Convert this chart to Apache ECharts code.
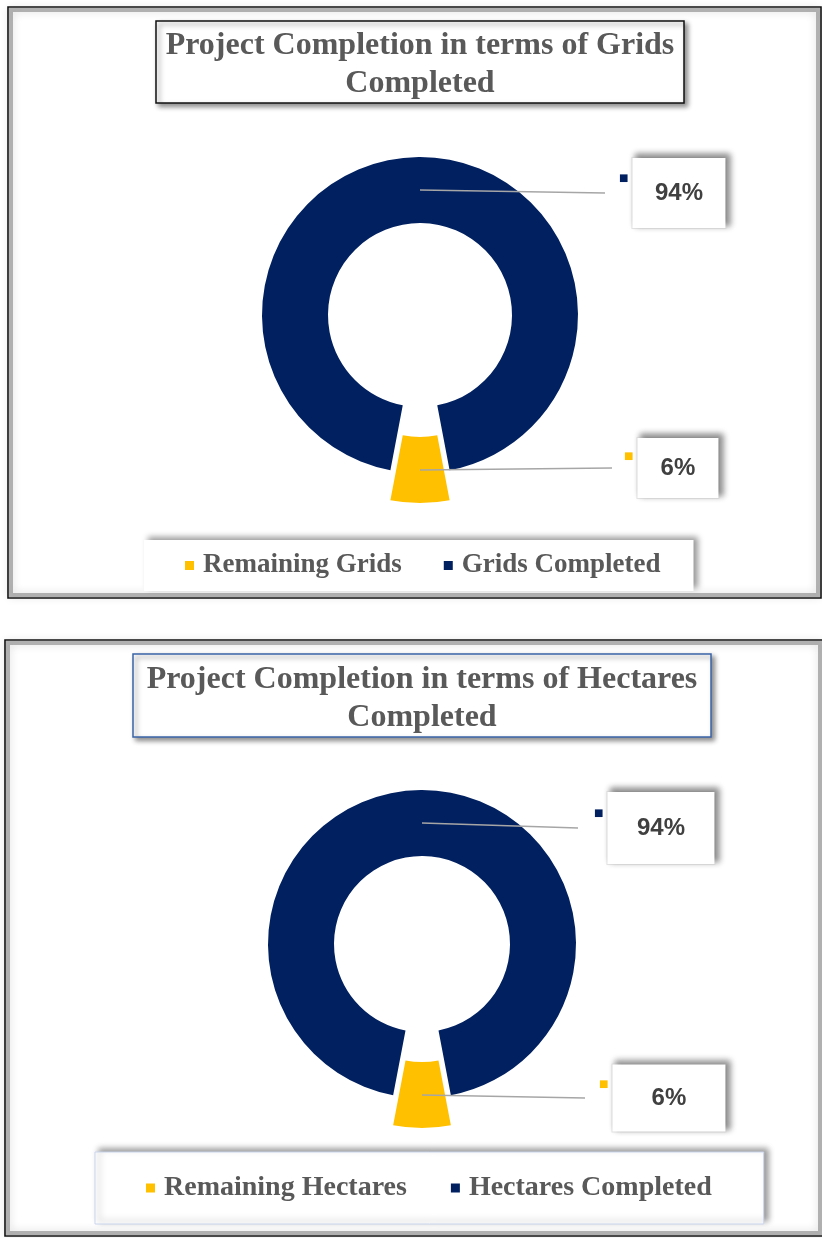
<!DOCTYPE html>
<html><head><meta charset="utf-8">
<script src="https://cdn.jsdelivr.net/npm/echarts@6/dist/echarts.min.js"></script>
<style>html,body{margin:0;padding:0;background:#fff;overflow:hidden}#c{width:822px;height:1238px}</style>
</head><body><div id="c"></div>
<script>
// ---- data ----
const gridTitle = 'Project Completion in terms of Grids\nCompleted';
const gridCategories = ['Remaining Grids', 'Grids Completed'];
const gridValues = [6, 94];
const hectareTitle = 'Project Completion in terms of Hectares\nCompleted';
const hectareCategories = ['Remaining Hectares', 'Hectares Completed'];
const hectareValues = [6, 94];
const sliceColors = ['#FFC000', '#002060'];

// ---- layout / style (not data) ----
const serifFont = '"Liberation Serif", "DejaVu Serif", serif';
const sansFont = '"Liberation Sans", Arial, sans-serif';
const explodeOffset = 30;
const panels = [
  { title: gridTitle, cats: gridCategories, vals: gridValues,
    frame: [8, 7, 813, 591],
    titleBox: { cx: 420, top: 21, width: 512, border: '#111', pad: [6, 8, 0, 8] },
    center: [420, 315], radius: [92, 158],
    labelX: [624, 619], lineEndX: [612, 605], lineDy: [-2, 3],
    box: [[81, 60], [93, 70]],
    legend: { left: 144, top: 540, pad: [12, 33, 12, 41], gap: 42, fontSize: 27, border: 'transparent' } },
  { title: hectareTitle, cats: hectareCategories, vals: hectareValues,
    frame: [5, 640, 818, 596],
    titleBox: { cx: 422, top: 654, width: 562, border: '#3A64A8', pad: [7, 8, 0, 8] },
    center: [422, 944], radius: [88, 154],
    labelX: [599, 594], lineEndX: [585, 578], lineDy: [3, 5],
    box: [[113, 67], [107, 72]],
    legend: { left: 95, top: 1152, pad: [22, 52, 22, 51], gap: 44, fontSize: 28, border: '#C9D6EE' } }
];

const rad = a => a * Math.PI / 180;
const hidden = { itemStyle: { color: 'rgba(0,0,0,0)' }, label: { show: false }, labelLine: { show: false } };

function makeSeries(p, si) {
  const total = p.vals.reduce((a, b) => a + b, 0);
  const big = p.vals.indexOf(Math.max(...p.vals));
  const start = 270 + 180 * p.vals[0] / total;   // first (small) slice centred at the bottom
  const mids = []; let acc = 0;
  p.vals.forEach(v => { mids.push(start - 360 * (acc + v / 2) / total); acc += v; });
  const small = p.vals.map((v, i) => i).filter(i => i !== big);
  // centre of each slice (exploded slices are pushed out along their mid angle)
  const centers = p.vals.map((v, i) => i === big ? p.center :
    [p.center[0] + explodeOffset * Math.cos(rad(mids[i])), p.center[1] - explodeOffset * Math.sin(rad(mids[i]))]);
  const midR = (p.radius[0] + p.radius[1]) / 2;

  const rich = {};
  p.vals.forEach((v, i) => {
    rich['sq' + i] = { fontFamily: '"DejaVu Sans"', fontSize: 10, lineHeight: 10, color: sliceColors[i],
      verticalAlign: 'top', padding: [Math.round(p.box[i][1] * 0.22), 4, 0, 0] };
    rich['box' + i] = { width: p.box[i][0], height: p.box[i][1], align: 'center', verticalAlign: 'middle',
      backgroundColor: '#fff', borderColor: '#E4E4E4', borderWidth: 1,
      shadowBlur: 6, shadowColor: 'rgba(0,0,0,0.45)', shadowOffsetX: 4, shadowOffsetY: -3,
      fontFamily: sansFont, fontWeight: 'bold', fontSize: 24, color: '#404040' };
  });

  const base = {
    type: 'pie', radius: p.radius, startAngle: start, clockwise: true,
    avoidLabelOverlap: false, emphasis: { disabled: true }, itemStyle: { borderWidth: 0 }
  };
  // slices: the ring (largest value) and the exploded small slice(s)
  const sliceSeries = [[big], small].map((vis, k) => Object.assign({}, base, {
    name: 'panel' + si + '-slices' + k, z: 2,
    center: centers[vis[0]],
    label: { show: false }, labelLine: { show: false },
    data: p.vals.map((v, i) => vis.indexOf(i) >= 0
      ? { value: v, name: p.cats[i], itemStyle: { color: sliceColors[i] } }
      : Object.assign({ value: v, name: p.cats[i] }, hidden))
  }));
  // labels with leader lines, drawn above the slices
  const labelSeries = Object.assign({}, base, {
    name: 'panel' + si + '-labels', z: 3, silent: true,
    center: p.center,
    label: {
      show: true, position: 'outside',
      formatter: (prm) => '{sq' + prm.dataIndex + '|■}{box' + prm.dataIndex + '|' + Math.round(prm.percent) + '%}',
      rich: rich
    },
    labelLine: { show: true, lineStyle: { color: '#A6A6A6', width: 1.5 } },
    labelLayout: function (prm) {
      const i = prm.dataIndex;
      const c = centers[i];
      const ax = c[0] + midR * Math.cos(rad(mids[i]));
      const ay = c[1] - midR * Math.sin(rad(mids[i]));
      const ey = ay + p.lineDy[i];
      return {
        x: p.labelX[i], y: ey, align: 'left', verticalAlign: 'middle',
        labelLinePoints: [[ax, ay], [p.lineEndX[i], ey], [p.lineEndX[i], ey]]
      };
    },
    data: p.vals.map((v, i) => ({ value: v, name: p.cats[i], itemStyle: { color: 'rgba(0,0,0,0)' } }))
  });
  return sliceSeries.concat([labelSeries]);
}

const option = {
  animation: false,
  backgroundColor: '#fff',
  graphic: panels.flatMap(p => [
    { type: 'rect', silent: true, z: 0,
      shape: { x: p.frame[0] + 3, y: p.frame[1] + 3, width: p.frame[2] - 6, height: p.frame[3] - 6 },
      style: { fill: 'none', stroke: 'rgba(110,110,110,0.5)', lineWidth: 4, shadowBlur: 8, shadowColor: 'rgba(0,0,0,0.3)' } },
    { type: 'rect', silent: true, z: 1,
      shape: { x: p.frame[0], y: p.frame[1], width: p.frame[2], height: p.frame[3] },
      style: { fill: 'none', stroke: '#111', lineWidth: 1.6 } }
  ]),
  title: panels.map(p => ({
    text: p.title, left: p.titleBox.cx - p.titleBox.pad[3], top: p.titleBox.top, textAlign: 'center',
    padding: p.titleBox.pad,
    backgroundColor: '#fff', borderColor: p.titleBox.border, borderWidth: 1.5,
    shadowBlur: 5, shadowColor: 'rgba(0,0,0,0.45)', shadowOffsetX: 3, shadowOffsetY: 3,
    textStyle: { width: p.titleBox.width, fontFamily: serifFont, fontWeight: 'bold', fontSize: 32, lineHeight: 38, color: '#595959' }
  })),
  legend: panels.map(p => ({
    data: p.cats.map((c, i) => ({ name: c, itemStyle: { color: sliceColors[i] } })),
    left: p.legend.left, top: p.legend.top, orient: 'horizontal',
    icon: 'rect', itemWidth: 9, itemHeight: 9, itemGap: p.legend.gap,
    padding: p.legend.pad, selectedMode: false,
    backgroundColor: '#fff', borderColor: p.legend.border, borderWidth: 1,
    shadowBlur: 6, shadowColor: 'rgba(0,0,0,0.4)', shadowOffsetX: 4, shadowOffsetY: -3,
    textStyle: { fontFamily: serifFont, fontWeight: 'bold', fontSize: p.legend.fontSize, color: '#595959', padding: [0, 0, 0, 4] }
  })),
  series: panels.flatMap(makeSeries)
};

const chart = echarts.init(document.getElementById('c'), null, { renderer: 'canvas' });
chart.setOption(option);
</script>
</body></html>
